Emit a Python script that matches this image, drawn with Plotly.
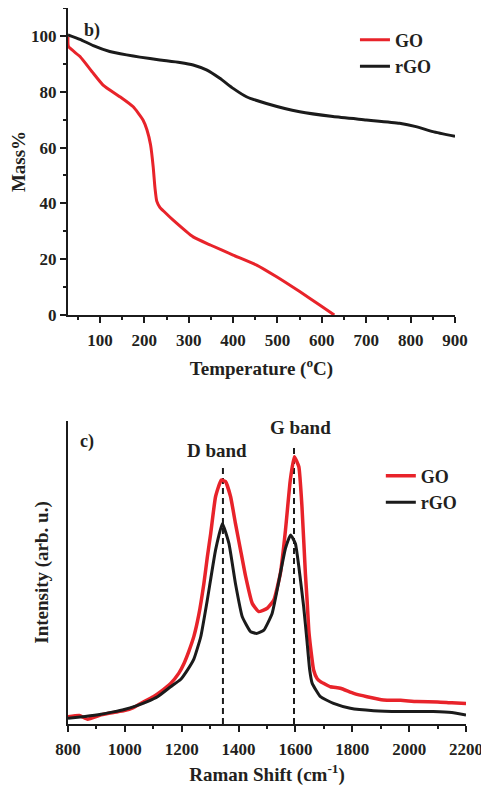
import plotly.graph_objects as go

# ---- TGA data (panel b) ----
tga_go_T = [28, 29, 55, 85, 107, 145, 175, 197, 206, 214, 220, 224, 228, 235, 245, 265, 310, 350, 400, 453, 498, 550, 595, 628]
tga_go_M = [99.8, 96.2, 92.6, 86.6, 82.4, 78.2, 74.6, 69.9, 66.3, 61.0, 53.0, 45.5, 40.8, 38.6, 37.0, 34.0, 28.0, 25.0, 21.5, 17.9, 13.7, 8.4, 3.6, 0.0]
tga_rgo_T = [28, 55, 85, 122, 160, 190, 235, 280, 310, 340, 370, 400, 430, 475, 550, 625, 700, 775, 812, 850, 900]
tga_rgo_M = [100.4, 98.8, 96.5, 94.4, 93.2, 92.4, 91.4, 90.5, 89.6, 87.8, 84.8, 81.2, 78.2, 75.8, 72.8, 71.1, 69.9, 68.7, 67.5, 65.7, 64.0]

# ---- Raman data (panel c) ----
raman_go_x = [800, 840, 869, 916, 960, 998, 1030, 1068, 1100, 1126, 1161, 1190, 1208, 1225, 1243, 1260, 1278, 1290,
              1302, 1319, 1339, 1354, 1372, 1389, 1407, 1425, 1448, 1471, 1501, 1524, 1547, 1565, 1582, 1596, 1612,
              1623, 1635, 1641, 1647, 1653, 1664, 1676, 1688, 1723, 1758, 1805, 1852, 1910, 1970, 2027, 2100, 2150, 2200]
raman_go_y = [2.4, 2.8, 1.6, 3.0, 3.8, 4.4, 5.4, 7.4, 9.0, 10.7, 13.4, 16.8, 20.0, 24.0, 29.0, 36.0, 46.4, 55.0,
              62.9, 75.0, 80.5, 80.0, 75.0, 66.2, 57.4, 48.6, 39.8, 37.1, 38.2, 40.9, 49.7, 64.0, 80.5, 88.2, 84.9,
              71.7, 49.7, 40.9, 31.0, 25.5, 17.8, 15.0, 14.0, 12.3, 11.8, 10.1, 9.0, 7.9, 7.8, 7.4, 7.3, 7.0, 6.8]
raman_rgo_x = [800, 860, 916, 960, 998, 1040, 1079, 1115, 1161, 1196, 1220, 1243, 1267, 1290, 1319, 1343, 1366, 1389,
               1413, 1442, 1463, 1489, 1518, 1547, 1565, 1583, 1600, 1612, 1629, 1641, 1650, 1659, 1688, 1734,
               1793, 1875, 1968, 2085, 2150, 2200]
raman_rgo_y = [1.9, 2.5, 3.2, 4.0, 4.8, 6.0, 7.4, 9.0, 12.3, 14.7, 17.8, 21.5, 28.8, 40.9, 57.4, 66.2, 59.6, 46.4,
               35.4, 30.5, 29.9, 31.0, 36.5, 49.7, 58.0, 62.4, 59.5, 51.9, 38.7, 27.0, 18.0, 13.4, 9.0, 6.8,
               5.2, 4.4, 4.1, 4.1, 3.8, 3.0]
band_pos = [1345, 1595]
band_top = [84.5, 92.0]
band_names = ["D band", "G band"]
band_label_y = [90.4, 98.0]
band_label_shift = [-6, 6]

RED = "#e8232a"
BLACK = "#1b1b1b"
TXT = "#231f20"
FONT = "Liberation Serif"

fig = go.Figure()
fig.add_trace(go.Scatter(x=tga_go_T, y=tga_go_M, mode="lines", name="GO",
                         line=dict(color=RED, width=3, shape="spline", smoothing=0.5),
                         xaxis="x", yaxis="y", legend="legend"))
fig.add_trace(go.Scatter(x=tga_rgo_T, y=tga_rgo_M, mode="lines", name="rGO",
                         line=dict(color=BLACK, width=3, shape="spline", smoothing=0.5),
                         xaxis="x", yaxis="y", legend="legend"))

for xp, yt in zip(band_pos, band_top):
    fig.add_trace(go.Scatter(x=[xp, xp], y=[0, yt], mode="lines", showlegend=False,
                             line=dict(color=BLACK, width=2, dash="6px,4px"), xaxis="x2", yaxis="y2"))

fig.add_trace(go.Scatter(x=raman_go_x, y=raman_go_y, mode="lines", name="GO",
                         line=dict(color=RED, width=3.5, shape="spline", smoothing=0.4),
                         xaxis="x2", yaxis="y2", legend="legend2"))
fig.add_trace(go.Scatter(x=raman_rgo_x, y=raman_rgo_y, mode="lines", name="rGO",
                         line=dict(color=BLACK, width=3, shape="spline", smoothing=0.4),
                         xaxis="x2", yaxis="y2", legend="legend2"))

tickfont = dict(family=FONT, size=17, color=TXT, weight="bold")
titlefont = dict(family=FONT, size=19, color=TXT, weight="bold")
legfont = dict(family=FONT, size=18, color=TXT, weight="bold")
minor_style = dict(ticks="outside", ticklen=3, tickwidth=2, tickcolor=BLACK)

axis_common = dict(showline=True, linewidth=2, linecolor=BLACK, ticks="outside", ticklen=6, tickwidth=2,
                   tickcolor=BLACK, showgrid=False, zeroline=False, tickfont=tickfont, mirror=False,
                   automargin=False)

fig.update_layout(
    width=489, height=789,
    paper_bgcolor="white", plot_bgcolor="white",
    margin=dict(l=60, r=31, t=0, b=73),
    font=dict(family=FONT, color=TXT),
    xaxis=dict(domain=[0, 0.9724], range=[28, 900], anchor="y", dtick=100, tick0=0,
               minor=dict(dtick=50, tick0=0, **minor_style), ticklabelstandoff=3,
               title=dict(text="Temperature (<sup>o</sup>C)", font=titlefont, standoff=12), **axis_common),
    yaxis=dict(domain=[0.5712, 1.0], range=[0, 110], anchor="x", dtick=20, tick0=0,
               minor=dict(dtick=10, tick0=0, **minor_style),
               title=dict(text="Mass%", font=titlefont, standoff=4), **axis_common),
    xaxis2=dict(domain=[0, 1.0], range=[800, 2200], anchor="y2", dtick=200, tick0=0,
                minor=dict(dtick=100, tick0=0, **minor_style), ticklabelstandoff=3,
                title=dict(text="Raman Shift (cm<sup>-1</sup>)", font=titlefont, standoff=9), **axis_common),
    yaxis2=dict(domain=[0, 0.4232], range=[0, 100], anchor="x2", showline=True, linewidth=2, linecolor=BLACK,
                ticks="", showticklabels=False, showgrid=False, zeroline=False, automargin=False,
                title=dict(text="Intensity (arb. u.)", font=titlefont, standoff=12)),
    legend=dict(x=0.721, y=0.981, xanchor="left", yanchor="top", bgcolor="rgba(0,0,0,0)",
                font=legfont, tracegroupgap=0),
    legend2=dict(x=0.786, y=0.372, xanchor="left", yanchor="top", bgcolor="rgba(0,0,0,0)",
                 font=legfont, tracegroupgap=0),
)

fig.add_annotation(text="b)", x=0.0603, y=0.969, xref="paper", yref="paper", showarrow=False,
                   xanchor="center", yanchor="middle",
                   font=dict(family=FONT, size=18, color=TXT, weight="bold"))
fig.add_annotation(text="c)", x=0.0477, y=0.395, xref="paper", yref="paper", showarrow=False,
                   xanchor="center", yanchor="middle",
                   font=dict(family=FONT, size=18, color=TXT, weight="bold"))
for xp, ly, nm, sh in zip(band_pos, band_label_y, band_names, band_label_shift):
    fig.add_annotation(text=nm, x=xp, y=ly, xref="x2", yref="y2", showarrow=False, xshift=sh,
                       xanchor="center", yanchor="middle",
                       font=dict(family=FONT, size=19, color=TXT, weight="bold"))

fig.write_html("out.html")
